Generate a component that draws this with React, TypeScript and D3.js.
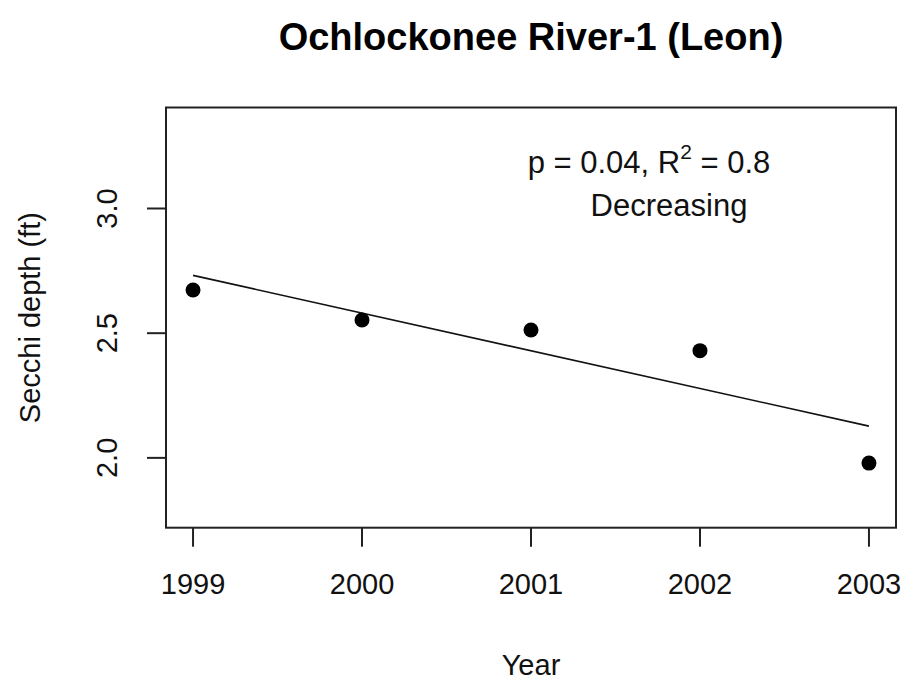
import React from "react";
import * as d3 from "d3";

const years = [1999, 2000, 2001, 2002, 2003];
const secchi = [2.673, 2.553, 2.513, 2.43, 1.979];
const yTicks = [2.0, 2.5, 3.0];
const xTicks = [1999, 2000, 2001, 2002, 2003];
const title = "Ochlockonee River-1 (Leon)";
const xLabel = "Year";
const yLabel = "Secchi depth (ft)";

const W = 909;
const H = 682;
const L = 166, R = 896, T = 107.5, B = 527.7;
const FONT = "'Liberation Sans', Arial, sans-serif";

export default function App() {
  const x = d3.scaleLinear().domain([1998.84, 2003.16]).range([L, R]);
  const y = d3.scaleLinear().domain([1.72, 3.405]).range([B, T]);

  const mx = d3.mean(years)!;
  const my = d3.mean(secchi)!;
  const slope =
    d3.sum(years.map((v, i) => (v - mx) * (secchi[i] - my))) /
    d3.sum(years.map((v) => (v - mx) ** 2));
  const icpt = my - slope * mx;
  const fitPts: [number, number][] = [years[0], years[years.length - 1]].map((v) => [x(v), y(icpt + slope * v)]);
  const line = d3.line();

  return (
    <svg width={W} height={H} style={{ display: "block", position: "absolute", left: 0, top: 0 }} fontFamily={FONT}>
      <rect width={W} height={H} fill="#fff" />
      <text x={(L + R) / 2} y={50} textAnchor="middle" fontWeight="bold" fontSize={38} fill="#000">{title}</text>
      <rect x={L} y={T} width={R - L} height={B - T} fill="none" stroke="#222" strokeWidth={2} />
      {xTicks.map((t) => (
        <g key={t}>
          <line x1={x(t)} x2={x(t)} y1={B} y2={B + 19} stroke="#222" strokeWidth={2} />
          <text x={x(t)} y={594} textAnchor="middle" fontSize={29} fill="#111">{t}</text>
        </g>
      ))}
      {yTicks.map((t) => (
        <g key={t}>
          <line x1={L - 19} x2={L} y1={y(t)} y2={y(t)} stroke="#222" strokeWidth={2} />
          <text transform={`translate(117,${y(t)}) rotate(-90)`} textAnchor="middle" fontSize={29} fill="#111">{t.toFixed(1)}</text>
        </g>
      ))}
      <text x={(L + R) / 2} y={675} textAnchor="middle" fontSize={29} fill="#111">{xLabel}</text>
      <text transform={`translate(40,${(T + B) / 2}) rotate(-90)`} textAnchor="middle" fontSize={29} fill="#111">{yLabel}</text>
      <path d={line(fitPts) || ""} stroke="#111" strokeWidth={1.6} fill="none" />
      {years.map((v, i) => (
        <circle key={v} cx={x(v)} cy={y(secchi[i])} r={7.5} fill="#000" />
      ))}
      <text x={649} y={173} textAnchor="middle" fontSize={31} fill="#111">
        p = 0.04, R<tspan dy={-14} fontSize={21}>2</tspan><tspan dy={14}> = 0.8</tspan>
      </text>
      <text x={669} y={216} textAnchor="middle" fontSize={31} fill="#111">Decreasing</text>
    </svg>
  );
}
